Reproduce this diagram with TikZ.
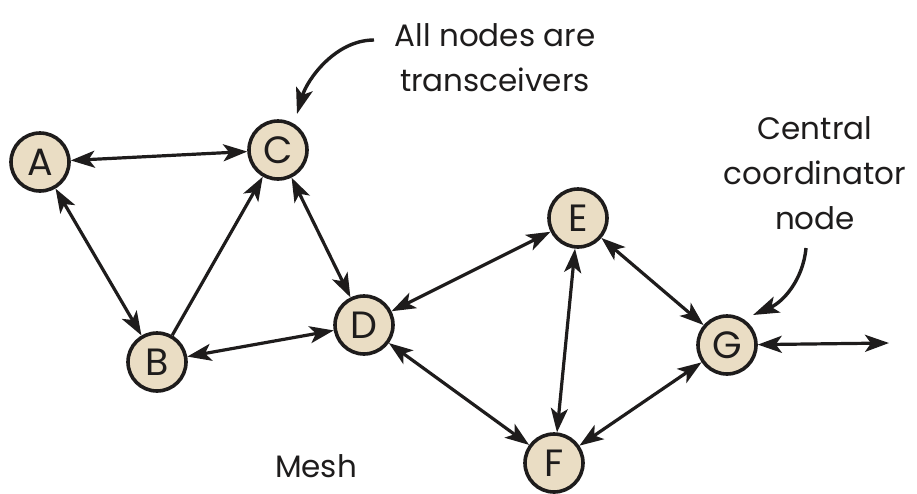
\documentclass[tikz,border=0pt]{standalone}
\usepackage{fontspec}
\setmainfont{Poppins}
\usetikzlibrary{arrows.meta}
\definecolor{nodefill}{RGB}{234,221,196}
\definecolor{ink}{RGB}{30,28,28}
\begin{document}
\begin{tikzpicture}[x=1pt,y=-1pt,
  mnode/.style={circle,draw=ink,line width=3.6pt,fill=nodefill,minimum size=58pt,inner sep=0pt,
    font=\fontsize{38}{38}\selectfont,text=ink},
  tip/.tip={Stealth[length=24pt,width=17pt,inset=6pt]},
  link/.style={line width=3.2pt,draw=ink,tip-tip},
  onelink/.style={line width=3.2pt,draw=ink,-tip},
  label/.style={font=\fontsize{31}{45}\selectfont,text=ink,align=center,inner sep=0pt},
  curvearrow/.style={line width=3.4pt,draw=ink,-{Stealth[length=26pt,width=17pt,inset=6pt]}}]
\useasboundingbox (0,0) rectangle (917,493);
\node[mnode] (A) at (40,162) {A};
\node[mnode] (C) at (278,150) {C};
\node[mnode] (B) at (157,362) {B};
\node[mnode] (D) at (364,325) {D};
\node[mnode] (E) at (578,218) {E};
\node[mnode] (F) at (554,463) {F};
\node[mnode] (G) at (727,345) {G};
\coordinate (out) at (889,343);
\draw[link] (A) -- (C);
\draw[link] (A) -- (B);
\draw[onelink] (B) -- (C);
\draw[link] (B) -- (D);
\draw[link] (C) -- (D);
\draw[link] (D) -- (E);
\draw[link] (D) -- (F);
\draw[link] (E) -- (F);
\draw[link] (E) -- (G);
\draw[link] (F) -- (G);
\draw[link] (G) -- (out);
\node[label] (trans) at (495,58) {All nodes are\\transceivers};
\node[label] (central) at (815,173) {Central\\coordinator\\node};
\node[label] (mesh) at (316,466) {Mesh};
\coordinate (t1) at (374,40);
\coordinate (t2) at (297,114);
\coordinate (c1) at (806,248);
\coordinate (c2) at (753,315);
\draw[curvearrow] (t1) .. controls (335,40) and (307,80) .. (t2);
\draw[curvearrow] (c1) .. controls (803,280) and (783,302) .. (c2);
\end{tikzpicture}
\end{document}
